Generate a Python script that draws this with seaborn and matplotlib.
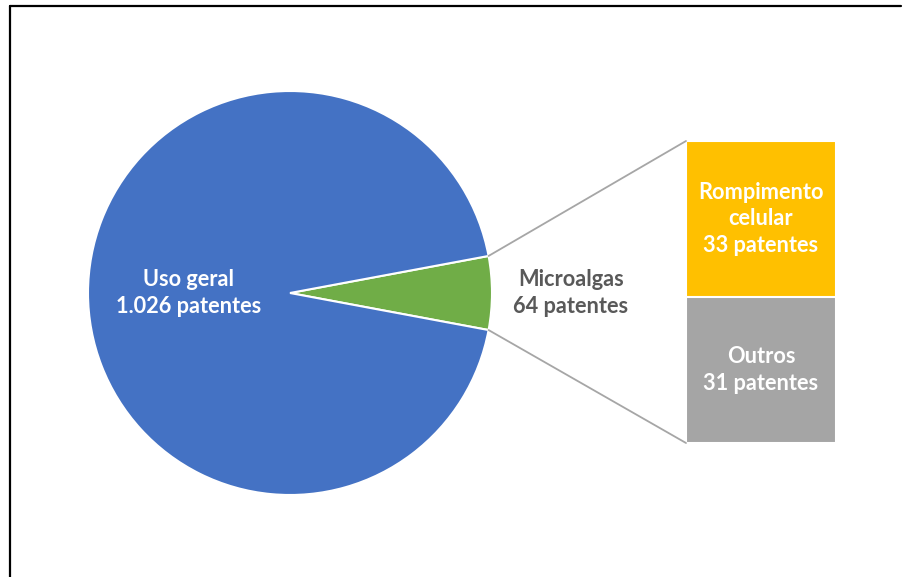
import matplotlib
matplotlib.use("Agg")
import matplotlib.pyplot as plt
from matplotlib.patches import ConnectionPatch
from matplotlib.lines import Line2D
import numpy as np
import pandas as pd
import seaborn as sns

# Patent counts
pie_labels = ["Microalgas", "Uso geral"]
pie_values = [64, 1026]
pie_value_text = ["64", "1.026"]
sub_labels = ["Rompimento\ncelular", "Outros"]
sub_values = [33, 31]

BLUE = "#4472C4"
GREEN = "#70AD47"
YELLOW = "#FFC000"
GREY = "#A5A5A5"
LINE = "#A6A6A6"
DARK = "#595959"

sns.set_theme(style="white")
plt.rcParams["font.family"] = ["Lato", "DejaVu Sans"]

W, H = 904, 577
fig = plt.figure(figsize=(W / 100, H / 100), dpi=100)
fig.patch.set_facecolor("white")

def px_axes(x0, y0, w, h):
    return fig.add_axes([x0 / W, 1 - (y0 + h) / H, w / W, h / H])

# ---- pie ----
cx, cy, r = 290, 293, 202
ax_pie = px_axes(cx - r, cy - r, 2 * r, 2 * r)
total = sum(pie_values)
half = pie_values[0] / total * 360 / 2
wedges, _ = ax_pie.pie(pie_values, colors=[GREEN, BLUE], startangle=-half,
                       counterclock=True,
                       wedgeprops=dict(edgecolor="white", linewidth=1.5))
ax_pie.set_xlim(-1, 1)
ax_pie.set_ylim(-1, 1)
ax_pie.set_aspect("equal")
ax_pie.axis("off")

fs = 15.7
ls = 1.33
ax_pie.text(-0.5, 0.0, f"{pie_labels[1]}\n{pie_value_text[1]} patentes",
            ha="center", va="center", color="white", fontsize=fs,
            fontweight="bold", linespacing=ls)
ax_pie.text(1.39, 0.0, f"{pie_labels[0]}\n{pie_value_text[0]} patentes",
            ha="center", va="center", color=DARK, fontsize=fs,
            fontweight="bold", linespacing=ls, clip_on=False)

# ---- stacked bar ----
ax_bar = px_axes(686, 141, 150, 302)
df_total = pd.DataFrame({"g": ["m"], "v": [sum(sub_values)]})
df_low = pd.DataFrame({"g": ["m"], "v": [sub_values[1]]})
sns.barplot(data=df_total, x="g", y="v", color=YELLOW, saturation=1,
            width=1.0, edgecolor="white", linewidth=1.5, ax=ax_bar)
sns.barplot(data=df_low, x="g", y="v", color=GREY, saturation=1,
            width=1.0, edgecolor="white", linewidth=1.5, ax=ax_bar)
ax_bar.set_xlim(-0.5, 0.5)
ax_bar.set_ylim(0, sum(sub_values))
ax_bar.axis("off")

ax_bar.text(0, sub_values[1] + sub_values[0] / 2,
            f"{sub_labels[0]}\n{sub_values[0]} patentes",
            ha="center", va="center", color="white", fontsize=fs,
            fontweight="bold", linespacing=ls)
ax_bar.text(0, sub_values[1] / 2, f"{sub_labels[1]}\n{sub_values[1]} patentes",
            ha="center", va="center", color="white", fontsize=fs,
            fontweight="bold", linespacing=ls)

# ---- connectors from the small slice to the bar ----
theta = np.deg2rad(half)
for sign, ybar in ((1, sum(sub_values)), (-1, 0)):
    con = ConnectionPatch(xyA=(np.cos(theta), sign * np.sin(theta)), coordsA=ax_pie.transData,
                          xyB=(-0.5, ybar), coordsB=ax_bar.transData,
                          color=LINE, linewidth=1.3)
    fig.add_artist(con)

# ---- outer frame (left and top) ----
fig.add_artist(Line2D([10 / W, 10 / W], [0, 1 - 5.5 / H], transform=fig.transFigure,
                      color="black", linewidth=1.6))
fig.add_artist(Line2D([10 / W, 901 / W], [1 - 5.5 / H, 1 - 5.5 / H], transform=fig.transFigure,
                      color="black", linewidth=1.6))

fig.savefig("out.png", dpi=100, facecolor="white")
